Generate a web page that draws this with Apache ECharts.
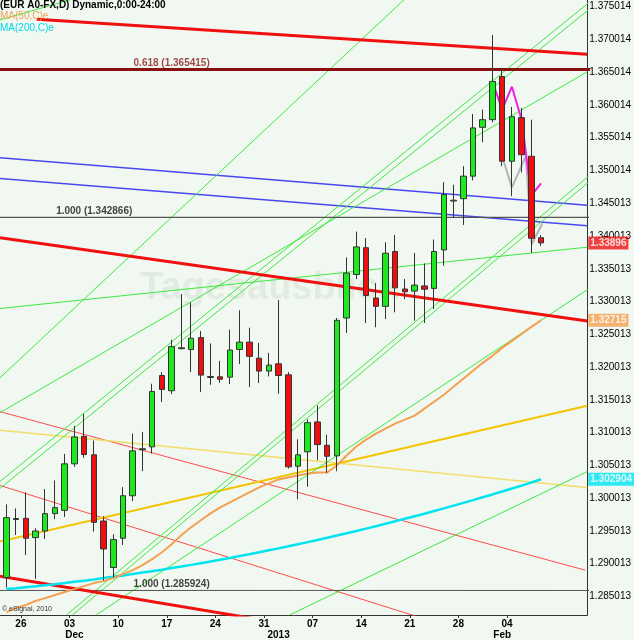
<!DOCTYPE html>
<html><head><meta charset="utf-8">
<script src="https://cdn.jsdelivr.net/npm/echarts@6/dist/echarts.min.js"></script>
<style>html,body{margin:0;padding:0;background:#f1f8f1;}#c{width:634px;height:640px;}</style>
</head><body><div id="c"></div>
<script>
const dates = ['2012-11-23','2012-11-26','2012-11-27','2012-11-28','2012-11-29','2012-11-30',
'2012-12-03','2012-12-04','2012-12-05','2012-12-06','2012-12-07','2012-12-10','2012-12-11','2012-12-12','2012-12-13','2012-12-14',
'2012-12-17','2012-12-18','2012-12-19','2012-12-20','2012-12-21','2012-12-24','2012-12-25','2012-12-26','2012-12-27','2012-12-28',
'2012-12-31','2013-01-01','2013-01-02','2013-01-03','2013-01-04','2013-01-07','2013-01-08','2013-01-09','2013-01-10','2013-01-11',
'2013-01-14','2013-01-15','2013-01-16','2013-01-17','2013-01-18','2013-01-21','2013-01-22','2013-01-23','2013-01-24','2013-01-25',
'2013-01-28','2013-01-29','2013-01-30','2013-01-31','2013-02-01','2013-02-04','2013-02-05','2013-02-06','2013-02-07','2013-02-08'];
const open = [1.28791,1.29675,1.29693,1.29399,1.29500,1.29765,1.29815,1.30525,1.30945,1.30662,1.29652,1.28943,1.29389,1.30038,1.30740,1.30784,
1.31873,1.31640,1.32282,1.32268,1.32451,1.31843,1.31853,1.31848,1.32271,1.32382,1.32137,1.31940,1.32051,1.31883,1.30489,1.30708,1.31164,1.30808,1.30647,1.32750,
1.33415,1.33823,1.33055,1.32928,1.33765,1.33192,1.33161,1.33240,1.33202,1.33789,1.34535,1.34571,1.34915,1.35660,1.35777,1.36436,1.35143,1.35808,1.35219,1.33975];
const high = [1.29906,1.29845,1.30089,1.29541,1.30139,1.30271,1.30677,1.31103,1.31286,1.30880,1.29723,1.29450,1.30169,1.30986,1.31012,1.31747,
1.31925,1.32420,1.33116,1.32989,1.32553,1.32363,1.32096,1.32572,1.32869,1.32603,1.32370,1.32218,1.33024,1.31925,1.30899,1.31204,1.31416,1.30971,1.32750,1.33674,
1.34069,1.33970,1.33283,1.33906,1.34018,1.33344,1.33744,1.33583,1.33948,1.34824,1.34784,1.35067,1.35864,1.35930,1.37070,1.36564,1.35971,1.35955,1.35777,1.34016];
const low = [1.28639,1.29439,1.29135,1.28770,1.29378,1.29682,1.29713,1.30479,1.30616,1.29491,1.28745,1.28791,1.29287,1.29956,1.30413,1.30682,
1.31468,1.31590,1.32271,1.31925,1.31620,1.31731,1.31762,1.31743,1.32048,1.31698,1.31757,1.31858,1.31594,1.30454,1.29982,1.30175,1.30580,1.30388,1.30413,1.32522,
1.33344,1.32674,1.32609,1.32735,1.32837,1.33039,1.32709,1.32674,1.32887,1.33546,1.34282,1.34170,1.34850,1.35432,1.35736,1.35067,1.34611,1.34971,1.33744,1.33850];
const close = [1.29704,1.29690,1.29389,1.29500,1.29765,1.29856,1.30525,1.30936,1.30667,1.29632,1.29226,1.29369,1.30038,1.30723,1.30755,1.31629,
1.31660,1.32314,1.32296,1.32442,1.31879,1.31857,1.31815,1.32261,1.32382,1.32165,1.31940,1.32031,1.31873,1.30479,1.30662,1.31153,1.30819,1.30641,1.32715,1.33435,
1.33835,1.33093,1.32928,1.33739,1.33210,1.33150,1.33252,1.33189,1.33765,1.34634,1.34548,1.34915,1.35651,1.35777,1.36360,1.35143,1.35823,1.35242,1.33967,1.33896];
const ma50 = [1.28263,1.28324,1.28370,1.28431,1.28476,1.28522,1.28568,1.28613,1.28659,1.28705,1.28735,1.28781,1.28842,1.28902,1.28978,1.29070,
1.29176,1.29298,1.29435,1.29556,1.29663,1.29769,1.29861,1.29937,1.30013,1.30089,1.30165,1.30226,1.30287,1.30317,1.30347,1.30378,1.30393,1.30393,1.30500,1.30652,
1.30789,1.30895,1.30986,1.31062,1.31138,1.31199,1.31260,1.31367,1.31473,1.31579,1.31701,1.31823,1.31945,1.32066,1.32173,1.32294,1.32401,1.32507,1.32614,1.32715];
const ma200 = [1.28613,1.28627,1.28642,1.28657,1.28673,1.28689,1.28706,1.28724,1.28742,1.28761,1.28781,1.28801,1.28821,1.28843,1.28865,1.28887,
1.28910,1.28934,1.28958,1.28983,1.29009,1.29035,1.29062,1.29089,1.29117,1.29146,1.29175,1.29205,1.29235,1.29266,1.29298,1.29330,1.29363,1.29396,1.29430,1.29465,
1.29500,1.29536,1.29573,1.29610,1.29648,1.29686,1.29725,1.29764,1.29805,1.29845,1.29887,1.29929,1.29971,1.30015,1.30058,1.30103,1.30148,1.30193,1.30240,1.302904];
const yTickLabels = ['1.375014','1.370014','1.365014','1.360014','1.355014','1.350014','1.345013','1.340013','1.335013','1.330013',
'1.325013','1.320013','1.315013','1.310013','1.305013','1.300013','1.295013','1.290013','1.285013'];
const redThickLines = [
  [[3.12,1.37309],[59.755,1.36774]],
  [[-0.653,1.33975],[59.755,1.32705]],
  [[-0.653,1.28811],[29.96,1.28051]]
];
const redThinLines = [
  [[-0.653,1.31321],[59.55,1.28902]],
  [[-0.653,1.30195],[50.37,1.27815]]
];
const blueLines = [
  [[-0.653,1.35195],[59.755,1.34470]],
  [[-0.653,1.34880],[59.755,1.34158]]
];
const goldLine = [[-0.653,1.29339],[59.755,1.31412]];
const paleYellowLine = [[-0.653,1.31036],[59.755,1.30165]];
const greenLines = [
  [[-0.653,1.37299],[9.55,1.37734]],
  [[-0.653,1.31838],[42.2,1.37787]],
  [[-0.653,1.31306],[59.755,1.36508]],
  [[-0.653,1.32895],[59.755,1.33831]],
  [[-0.653,1.30256],[59.857,1.37557]],
  [[-0.653,1.30150],[59.857,1.37451]],
  [[6.18,1.28218],[59.857,1.34911]],
  [[6.80,1.28218],[59.857,1.34819]],
  [[9.24,1.28218],[59.857,1.33192]],
  [[29.14,1.28218],[59.755,1.30408]]
];
const magentaPath = [[50,1.36356],[51,1.35930],[52,1.36280],[53,1.35778],[54,1.34622],[55,1.34804]];
const grayPath = [[51,1.35215],[52,1.34743],[53.43,1.35219],[54.04,1.33876],[55.14,1.34196]];
const fibLevels = [1.365415, 1.342866, 1.285924];
const fibTexts = ['0.618 (1.365415)', '1.000 (1.342866)', '1.000 (1.285924)'];
const lastClose = 1.33896;

const FONT = '"Liberation Sans", Arial, sans-serif';
const XMIN = -0.653, XMAX = 59.755;
const n = dates.length;
const mondayIdx = [];
dates.forEach((d,i)=>{ if (new Date(d+'T00:00:00Z').getUTCDay()===1) mondayIdx.push(i); });
const monthStart = [];
dates.forEach((d,i)=>{ if (i>0 && d.slice(5,7)!==dates[i-1].slice(5,7)) monthStart.push(i); });
const monthNames = {'12':'Dec','01':'2013','02':'Feb'};
const tickPos = mondayIdx.map(i=>i+0.5);
const monthPos = monthStart.map(i=>i+1);

const candleData = dates.map((d,i)=>[i, open[i], close[i], low[i], high[i]]);

function seg(pts, color, width, z) {
  return {type:'line', data: pts, symbol:'none', showSymbol:false, silent:true, clip:true, z: z||1,
    lineStyle:{color: color, width: width}, animation:false};
}
const series = [];
redThinLines.forEach(l=>series.push(seg(l,'#ff4a4a',1,1)));
series.push(seg(paleYellowLine,'#f3dc6a',1.5,1));
series.push(seg(goldLine,'#f4c400',2,1));
blueLines.forEach(l=>series.push(seg(l,'#4848f0',1.5,1)));
greenLines.forEach(l=>series.push(seg(l,'#3ee83e',1,1)));
series.push(seg([[XMIN-1,fibLevels[0]],[XMAX+1,fibLevels[0]]],'#8a1010',3,1));
series.push(seg([[XMIN-1,fibLevels[1]],[XMAX+1,fibLevels[1]]],'#555555',1.3,1));
series.push(seg([[XMIN-1,fibLevels[2]],[XMAX+1,fibLevels[2]]],'#555555',1,1));
redThickLines.forEach(l=>series.push(seg(l,'#f01010',3,1)));
series.push(seg(ma200.map((v,i)=>[i,v]),'#00e4f0',2.5,1));
series.push(seg(ma50.map((v,i)=>[i,v]),'#f4a050',2,1));
series.push(seg(grayPath,'#b4b4b4',2,2));
series.push(seg(magentaPath,'#f020e0',2,2));
series.push({
  type:'candlestick', data: candleData, encode:{x:0, y:[1,2,3,4]}, barWidth: 6, z: 3, silent:true,
  itemStyle:{color:'#1ee81e', color0:'#ee1010', borderColor:'#333333', borderColor0:'#333333', borderWidth:1}
});
const fibAnchors = [17, 9.04, 17];
series.push({
  type:'scatter', symbolSize:0, silent:true, z:4, clip:false,
  data: fibLevels.map((v,i)=>({value:[fibAnchors[i], v], label:{formatter: fibTexts[i], color: i===0?'#8a1a1a':'#111'}})),
  label:{show:true, position:'top', distance:1, fontSize:10, fontWeight:'bold', fontFamily:FONT}
});
const boxes = [
  {v:lastClose, text: lastClose.toFixed(5), bg:'#ee1414'},
  {v:ma50[n-1], text: ma50[n-1].toFixed(5), bg:'#f4a050'},
  {v:ma200[n-1], text: ma200[n-1].toFixed(6), bg:'#00e4f0'}
];
series.push({
  type:'scatter', symbolSize:0, silent:true, z:6, clip:false,
  data: boxes.map(b=>({value:[XMAX, b.v], label:{formatter:b.text, backgroundColor:b.bg}})),
  label:{show:true, position:'right', distance:1, fontSize:10, fontWeight:'bold', fontFamily:FONT, color:'#fff', padding:[2,2,1,2]}
});

const chart = echarts.init(document.getElementById('c'), null, {renderer:'canvas'});
chart.setOption({
  backgroundColor:'#f1f8f1',
  animation:false,
  grid:{left:0, right:42, top:0, bottom:23, containLabel:false},
  xAxis:[{
    type:'value', min:XMIN, max:XMAX, position:'bottom',
    axisLine:{show:true, onZero:false, lineStyle:{color:'#333', width:1}},
    axisTick:{show:true, customValues: tickPos, length:3, lineStyle:{color:'#333'}},
    splitLine:{show:false},
    axisLabel:{customValues: tickPos, margin:4, fontSize:10, fontWeight:'bold', color:'#000', fontFamily:FONT,
      formatter: v => dates[Math.round(v-0.5)].slice(8,10)}
  },{
    type:'value', min:XMIN, max:XMAX, position:'bottom', offset:11,
    axisLine:{show:false, onZero:false}, axisTick:{show:false}, splitLine:{show:false},
    axisLabel:{customValues: monthPos, margin:4, fontSize:10, fontWeight:'bold', color:'#000', fontFamily:FONT,
      formatter: v => monthNames[dates[Math.round(v-1)].slice(5,7)]}
  }],
  yAxis:{
    type:'value', min:1.28218, max:1.37603, position:'right',
    axisLine:{show:true, onZero:false, lineStyle:{color:'#333', width:1}},
    axisTick:{show:false}, splitLine:{show:false},
    axisLabel:{customValues: yTickLabels.map(Number), margin:2, fontSize:10, color:'#000', fontFamily:FONT,
      formatter: v => v.toFixed(6)}
  },
  graphic:[
    {type:'text', left:140, top:270, z:0, silent:true, style:{text:'Tagesausblick', font:'bold 38px '+FONT, fill:'#e2ebe2'}},
    {type:'text', left:0, top:0, z:10, silent:true, style:{text:'(EUR A0-FX,D) Dynamic,0:00-24:00', font:'bold 10px '+FONT, fill:'#000'}},
    {type:'text', left:0, top:11, z:10, silent:true, style:{text:'MA(50,C)e', font:'10px '+FONT, fill:'#f4a050'}},
    {type:'text', left:0, top:23, z:10, silent:true, style:{text:'MA(200,C)e', font:'10px '+FONT, fill:'#00d8ec'}},
    {type:'text', left:2, top:606, z:10, silent:true, style:{text:'\u00a9 eSignal, 2010', font:'7px '+FONT, fill:'#333'}}
  ],
  series: series
});
</script></body></html>
